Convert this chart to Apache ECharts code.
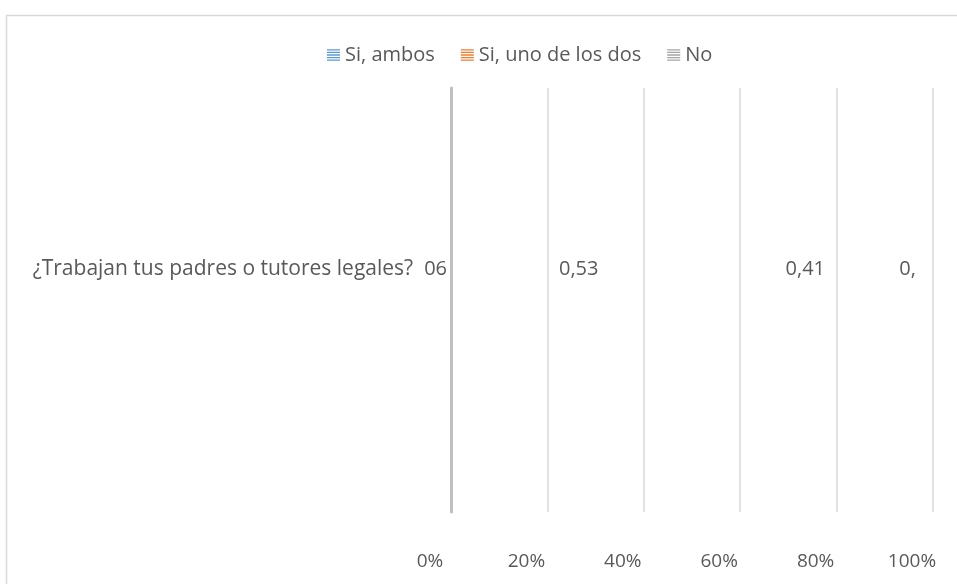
<!DOCTYPE html>
<html>
<head>
<meta charset="utf-8">
<script src="https://cdn.jsdelivr.net/npm/echarts@6/dist/echarts.min.js"></script>
<style>html,body{margin:0;padding:0;background:#fff}#c{width:957px;height:584px}</style>
</head>
<body>
<div id="c"></div>
<script>
const categories = ['¿Trabajan tus padres o tutores legales?'];
const seriesNames = ['Si, ambos', 'Si, uno de los dos', 'No'];
const siAmbos = [0.53];
const siUno = [0.41];
const no = [0.06];
const noLabelTail = '06';
const xTicks = [0, 0.2, 0.4, 0.6, 0.8, 1];
const colors = ['#5b9bd5', '#ed7d31', '#a5a5a5'];

const FONT = 'Open Sans';
const FS = 20;
const TXT = '#595959';
const fmt = v => String(v).replace('.', ',');
const stripe = 'path://M0 0H12V1.2H0ZM0 2.4H12V3.6H0ZM0 4.8H12V6H0ZM0 7.2H12V8.4H0ZM0 9.6H12V10.8H0Z';

const chart = echarts.init(document.getElementById('c'));
const mk = (name, data, color, extra) => ({
  name, type: 'bar', stack: 'total', data, barWidth: '60%',
  itemStyle: { color: color, opacity: 0 },
  label: Object.assign({
    show: true, position: 'inside', color: TXT, fontFamily: FONT, fontSize: FS,
    opacity: 1,
    offset: [0, -31],
    formatter: p => fmt(p.value)
  }, extra || {}),
  emphasis: { disabled: true }
});
chart.setOption({
  animation: false,
  textStyle: { fontFamily: FONT },
  graphic: [{
    type: 'rect', left: 4, top: 13, shape: { width: 1000, height: 700 },
    style: { fill: 'none', stroke: '#d9d9d9', lineWidth: 1.5 }, silent: true
  }],
  legend: {
    top: 40, left: 322, itemWidth: 13, itemHeight: 12, itemGap: 26, icon: stripe,
    textStyle: { color: TXT, fontFamily: FONT, fontSize: FS },
    data: seriesNames.map((n, i) => ({ name: n, itemStyle: { color: colors[i], opacity: 1 } }))
  },
  grid: { left: 451, right: 24, top: 88, bottom: 72, containLabel: false },
  xAxis: {
    type: 'value', min: xTicks[0], max: xTicks[xTicks.length - 1], interval: 0.2,
    axisLine: { show: false }, axisTick: { show: false },
    splitLine: { lineStyle: { color: '#d9d9d9', width: 1.5 } },
    axisLabel: {
      color: TXT, fontFamily: FONT, fontSize: 19, margin: 40,
      padding: [0, 42, 0, 0],
      formatter: v => Math.round(v * 100) + '%'
    }
  },
  yAxis: {
    type: 'category', data: categories,
    axisLine: { lineStyle: { color: '#bfbfbf', width: 3 } },
    axisTick: { show: false },
    axisLabel: {
      margin: 4, color: TXT, fontFamily: FONT, fontSize: 21,
      padding: [0, 0, 62, 0],
      formatter: v => '{a|' + v + '}{b|' + noLabelTail + '}',
      rich: {
        a: { color: TXT, fontFamily: FONT, fontSize: 21 },
        b: { color: TXT, fontFamily: FONT, fontSize: FS, padding: [0, 0, 0, 11] }
      }
    }
  },
  series: [
    mk(seriesNames[0], siAmbos, colors[0]),
    mk(seriesNames[1], siUno, colors[1]),
    mk(seriesNames[2], no, colors[2], { offset: [-11, -31], formatter: p => fmt(p.value).slice(0, 2) })
  ]
});
</script>
</body>
</html>
